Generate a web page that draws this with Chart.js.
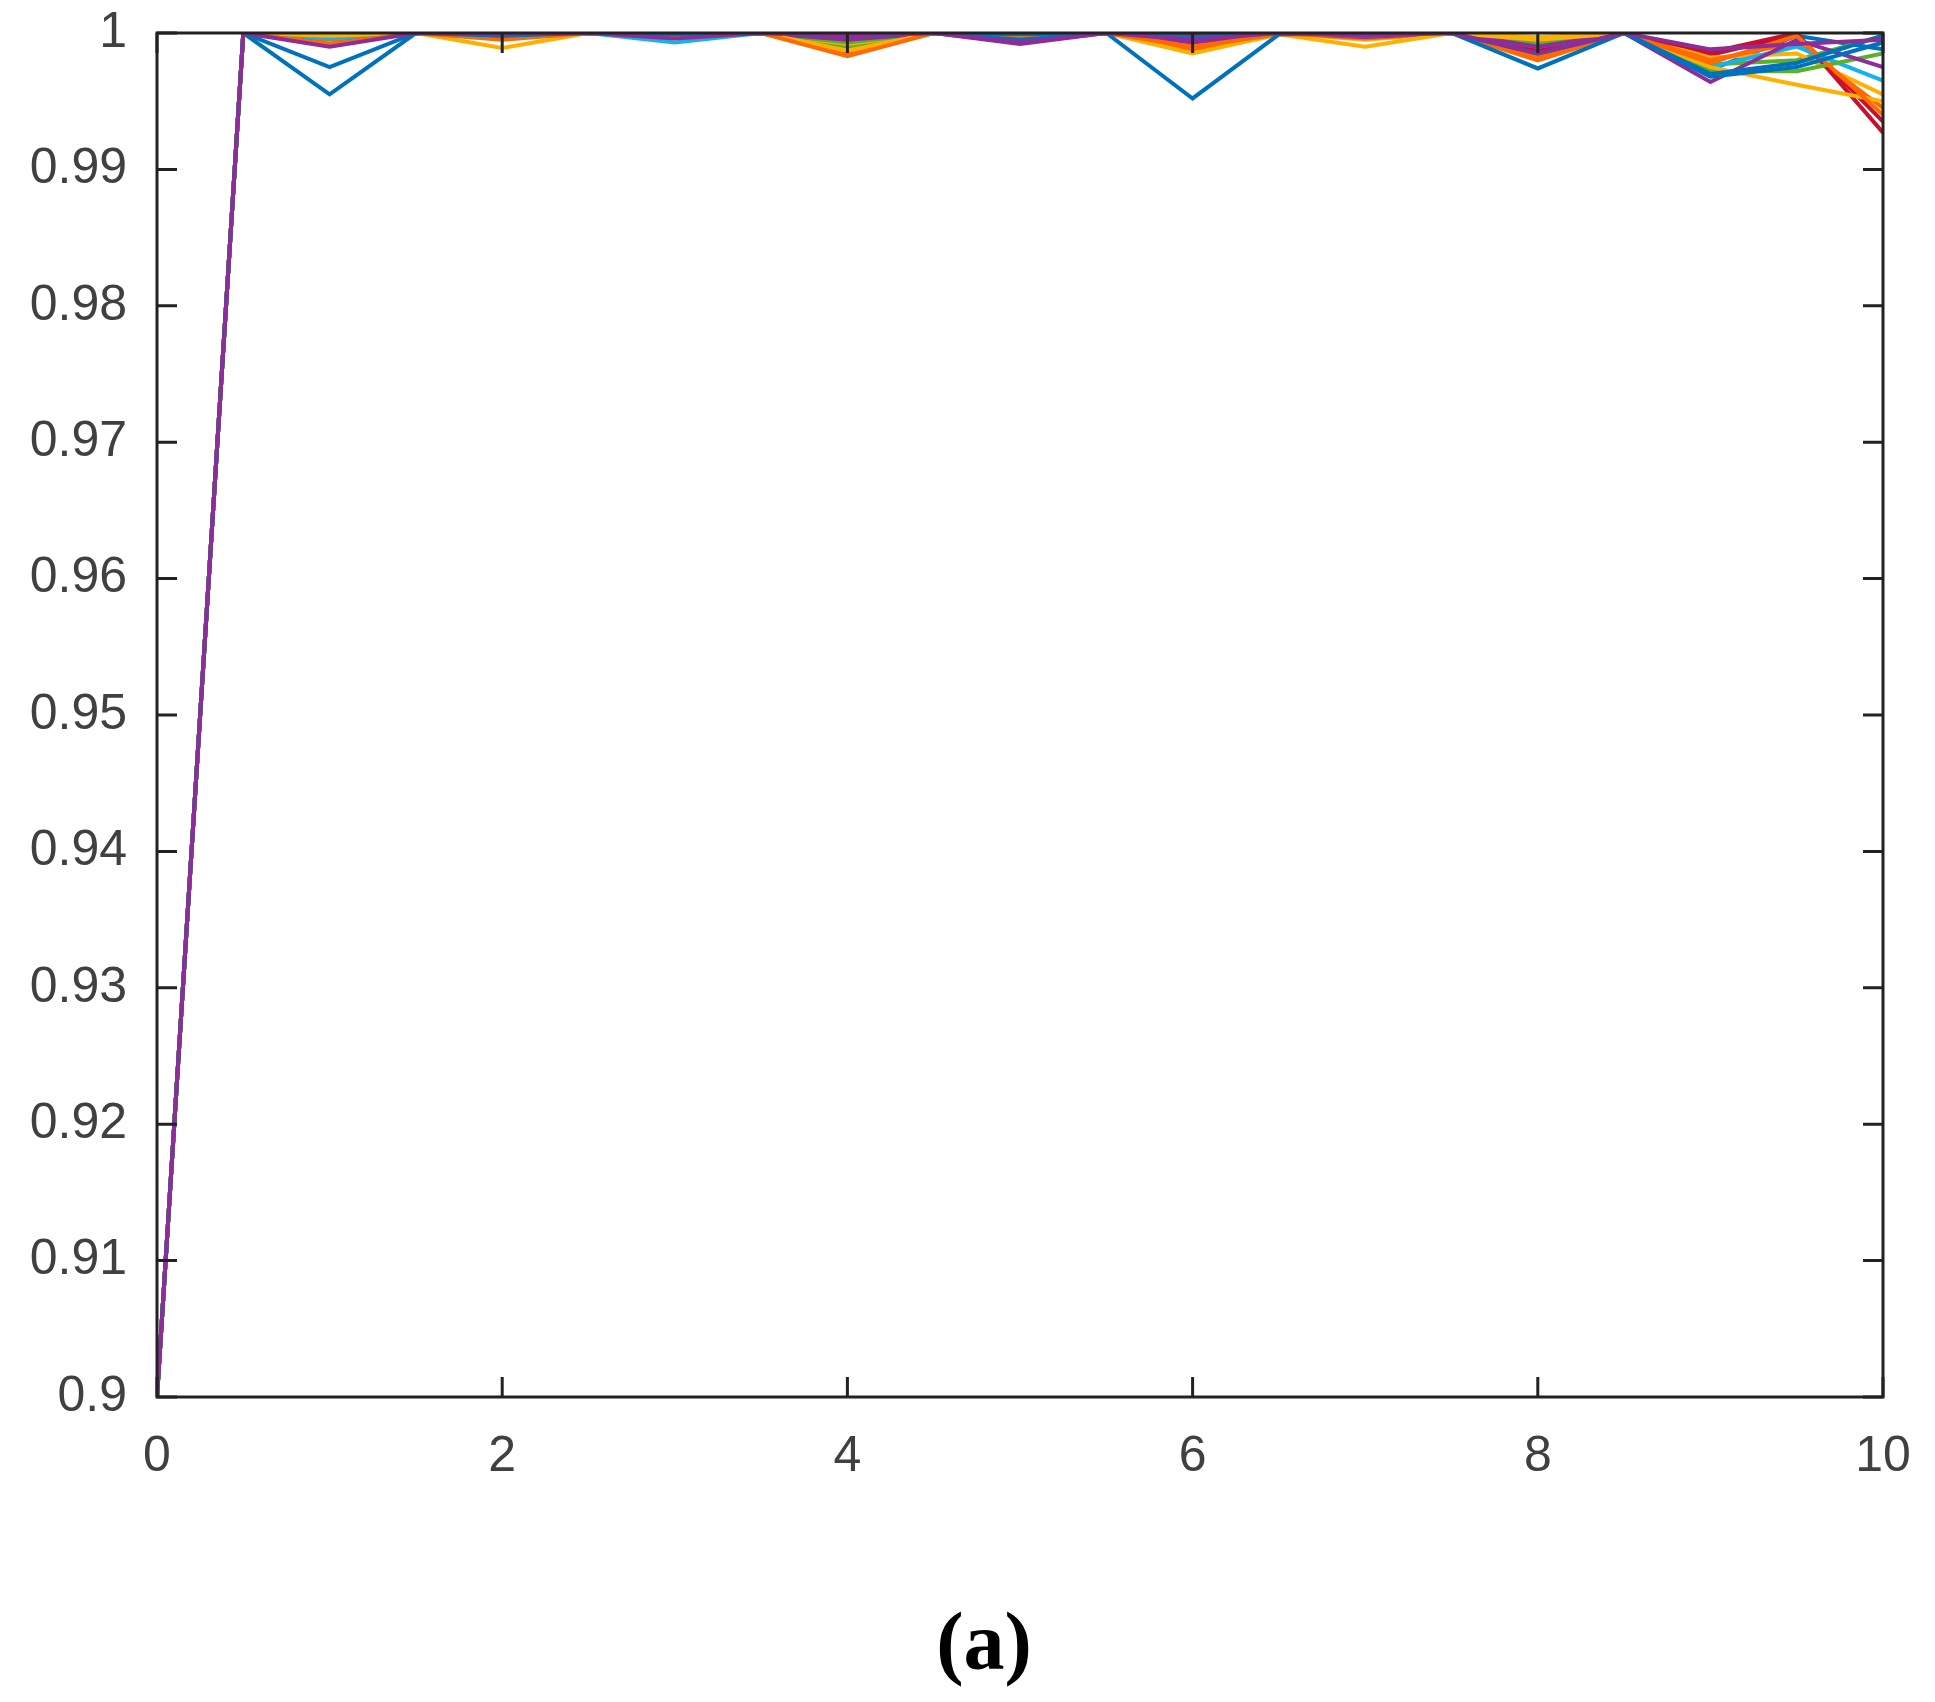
<!DOCTYPE html>
<html><head><meta charset="utf-8">
<script src="https://cdn.jsdelivr.net/npm/chart.js@4/dist/chart.umd.min.js"></script>
<style>html,body{margin:0;padding:0;background:#fff}#wrap{width:1935px;height:1702px}</style>
</head><body><div id="wrap"><canvas id="c"></canvas></div>
<script>
const xValues = [0,0.5,1,1.5,2,2.5,3,3.5,4,4.5,5,5.5,6,6.5,7,7.5,8,8.5,9,9.5,10];
const yTicks = [0.9,0.91,0.92,0.93,0.94,0.95,0.96,0.97,0.98,0.99,1];
const xTicks = [0,2,4,6,8,10];
const caption = "(a)";
const colors = ["#0072BD","#0072BD","#FF6A00","#FFB000","#8E2C9A","#5AB02A","#14B4E8","#C8102E","#FF6A00","#8E2C9A","#FFB000","#5AB02A","#C8102E","#0072BD"];
const s1  = [0.9,1,0.9955,1,1,1,0.9999,1,0.9999,1,0.9999,1,0.9952,0.9999,1,1,0.9974,1,0.9968,0.9975,0.9993];
const s2  = [0.9,1,0.9975,1,0.9998,1,0.9999,1,0.9998,1,0.9995,1,0.9997,1,0.9999,1,0.9985,1,0.9970,0.9978,0.9998];
const s3  = [0.9,1,0.9992,1,0.9995,1,0.9999,1,0.9983,1,0.9996,1,0.9990,0.9999,0.9998,1,0.9980,1,0.9978,0.9998,0.9940];
const s4  = [0.9,1,0.9998,1,0.9989,1,0.9997,1,0.9987,1,0.9998,1,0.9985,0.9999,0.9990,1,0.9995,1,0.9975,0.9962,0.9950];
const s5  = [0.9,1,0.9992,1,0.9996,1,0.9999,1,0.9995,1,0.9992,1,0.9993,1,0.9997,1,0.9990,1,0.9964,0.9995,0.9975];
const s6  = [0.9,1,0.9998,1,0.9999,1,1,1,0.9993,1,0.9997,1,0.9996,1,0.9999,1,0.9993,1,0.9972,0.9972,0.9985];
const s7  = [0.9,1,0.9996,1,0.9999,1,0.9993,1,0.9998,1,0.9999,1,0.9994,1,0.9998,1,0.9990,1,0.9975,0.9990,0.9965];
const s8  = [0.9,1,0.9997,1,0.9998,1,0.9997,1,0.9997,1,0.9998,1,0.9998,1,1,1,0.9987,1,0.9986,1,0.9927];
const s9  = [0.9,1,0.9995,1,0.9999,1,0.9998,1,0.9985,1,0.9999,1,0.9988,1,0.9996,1,0.9983,1,0.9980,0.9993,0.9945];
const s10 = [0.9,1,0.9990,1,0.9999,1,0.9996,1,0.9998,1,0.9993,1,0.9995,1,0.9998,1,0.9985,1,0.9988,0.9992,0.9995];
const s11 = [0.9,1,0.9999,1,0.9997,1,0.9999,1,0.9992,1,0.9999,1,0.9991,1,0.9995,1,0.9997,1,0.9982,0.9985,0.9955];
const s12 = [0.9,1,0.9999,1,0.9998,1,0.9999,1,0.9990,1,0.9998,1,0.9997,1,0.9999,1,0.9991,1,0.9977,0.9980,0.9998];
const s13 = [0.9,1,0.9996,1,0.9999,1,0.9998,1,0.9996,1,0.9999,1,0.9994,1,0.9999,1,0.9988,1,0.9984,0.9999,0.9935];
const s14 = [0.9,1,0.9997,1,0.9999,1,0.9999,1,0.9999,1,0.9998,1,0.9996,1,0.9999,1,0.9993,1,0.9973,0.9998,0.9988];
const series = [s1,s2,s3,s4,s5,s6,s7,s8,s9,s10,s11,s12,s13,s14];

const datasets = series.map((s,i)=>({
  data: s.map((v,j)=>({x:xValues[j],y:v})),
  borderColor: colors[i], borderWidth: 4, pointRadius: 0, fill:false, tension:0,
  order: i===9 ? -1 : i
}));

const frame = {
  id:'frame',
  afterDatasetsDraw(chart){
    const {ctx, chartArea:a, scales:{x,y}} = chart;
    ctx.save();
    ctx.strokeStyle='#222'; ctx.lineWidth=3;
    ctx.strokeRect(a.left,a.top,a.right-a.left,a.bottom-a.top);
    ctx.lineWidth=3;
    const L=20;
    ctx.beginPath();
    xTicks.forEach(v=>{const p=x.getPixelForValue(v);
      ctx.moveTo(p,a.bottom);ctx.lineTo(p,a.bottom-L);ctx.moveTo(p,a.top);ctx.lineTo(p,a.top+L);});
    yTicks.forEach(v=>{const p=y.getPixelForValue(v);
      ctx.moveTo(a.left,p);ctx.lineTo(a.left+L,p);ctx.moveTo(a.right,p);ctx.lineTo(a.right-L,p);});
    ctx.stroke();
    ctx.fillStyle='#000'; ctx.font='bold 82px "Liberation Serif"';
    ctx.textAlign='center'; ctx.textBaseline='middle';
    ctx.fillText(caption,984,1648);
    ctx.restore();
  }
};

new Chart(document.getElementById('c'),{
  type:'line',
  data:{datasets},
  options:{
    responsive:true, maintainAspectRatio:false, animation:false,
    layout:{padding:{left:0,top:33,right:52,bottom:205}},
    plugins:{legend:{display:false},tooltip:{enabled:false}},
    scales:{
      x:{type:'linear',min:0,max:10,
        afterFit(s){s.height=100;s.paddingLeft=0;s.paddingRight=0;},
        afterBuildTicks(s){s.ticks=xTicks.map(v=>({value:v}));},
        grid:{display:false}, border:{display:false},
        ticks:{color:'#404040',font:{family:'Arial, "Liberation Sans"',size:50},padding:22,maxRotation:0}},
      y:{min:0.9,max:1,
        afterFit(s){s.width=157;s.paddingTop=0;s.paddingBottom=0;},
        afterBuildTicks(s){s.ticks=yTicks.map(v=>({value:v}));},
        grid:{display:false}, border:{display:false},
        ticks:{color:'#404040',font:{family:'Arial, "Liberation Sans"',size:50},padding:22,
          callback:v=>String(+v.toFixed(2))}}
    }
  },
  plugins:[frame]
});
</script></body></html>
